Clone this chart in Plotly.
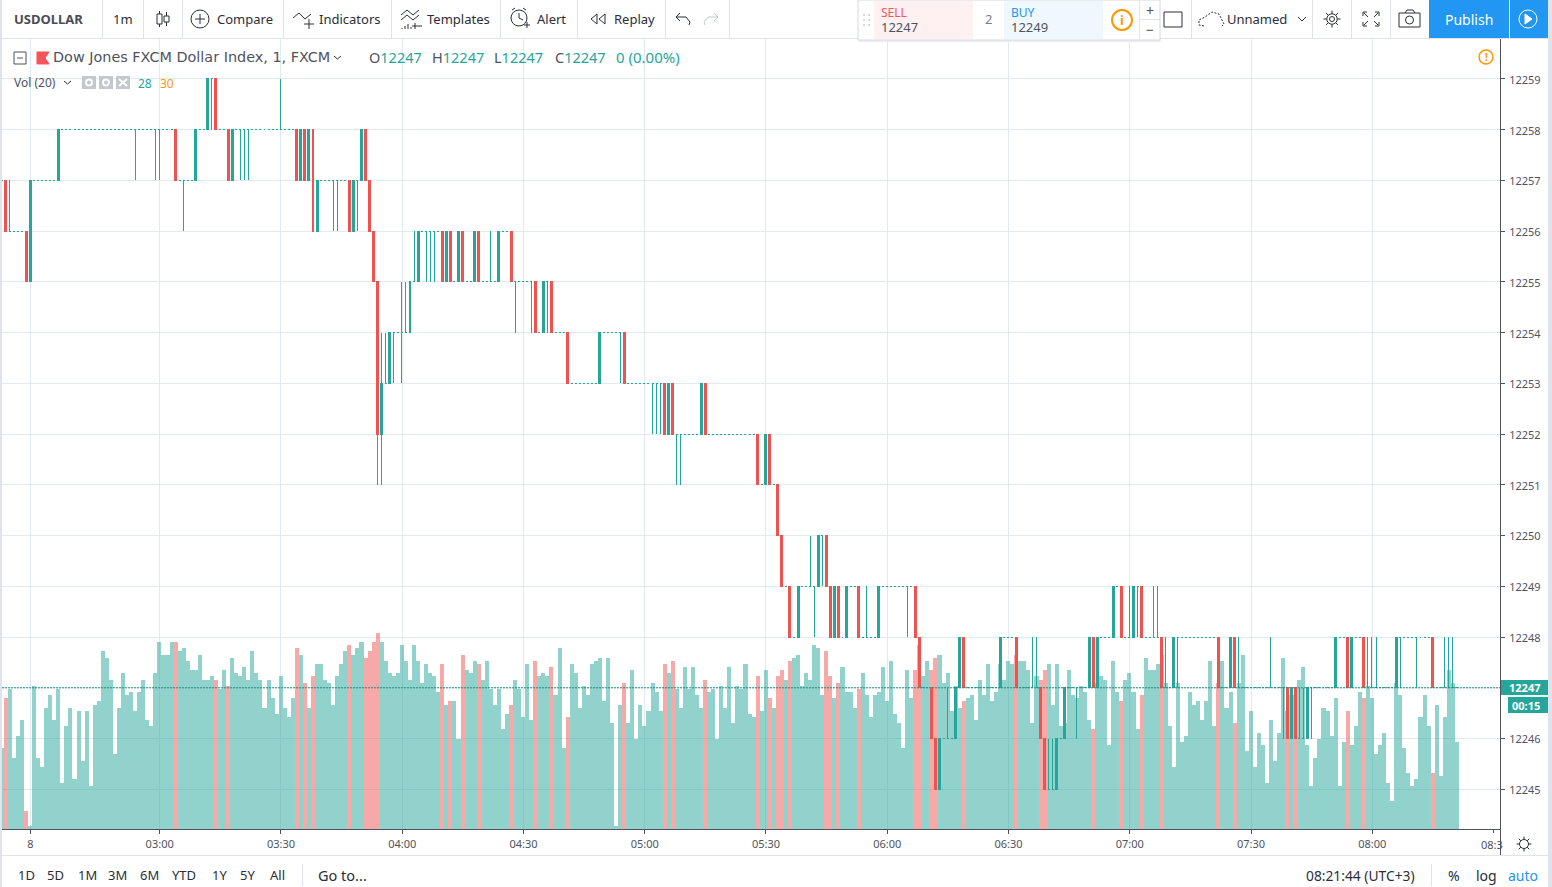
import plotly.graph_objects as go

# ---------- data ----------
time_tick_bars = [7, 39, 69, 99, 129, 159, 189, 219, 249, 279, 309, 339]
time_tick_labels = ["8", "03:00", "03:30", "04:00", "04:30", "05:00", "05:30", "06:00", "06:30", "07:00", "07:30", "08:00"]

first_open = 12257
closes = [
12257,12256,12256,12256,12256,12256,12255,12257,12257,12257,
12257,12257,12257,12257,12258,12258,12258,12258,12258,12258,
12258,12258,12258,12258,12258,12258,12258,12258,12258,12258,
12258,12258,12258,12258,12258,12258,12258,12258,12258,12258,
12258,12258,12258,12257,12257,12257,12257,12257,12258,12258,
12258,12259,12259,12258,12258,12258,12257,12258,12258,12258,
12258,12258,12258,12258,12258,12258,12258,12258,12258,12258,
12258,12258,12258,12257,12258,12257,12258,12256,12257,12257,
12257,12257,12257,12257,12257,12257,12256,12257,12257,12258,
12257,12256,12255,12252,12253,12253,12254,12254,12254,12254,
12254,12255,12255,12256,12256,12256,12256,12256,12256,12255,
12256,12255,12255,12256,12255,12255,12255,12256,12255,12255,
12255,12255,12255,12256,12256,12256,12255,12255,12255,12255,
12255,12255,12254,12254,12255,12255,12254,12254,12254,12254,
12253,12253,12253,12253,12253,12253,12253,12253,12254,12254,
12254,12254,12254,12254,12253,12253,12253,12253,12253,12253,
12253,12253,12253,12253,12252,12253,12252,12252,12252,12252,
12252,12252,12252,12253,12252,12252,12252,12252,12252,12252,
12252,12252,12252,12252,12252,12252,12252,12251,12251,12252,
12251,12251,12250,12249,12249,12248,12248,12249,12249,12249,
12249,12249,12250,12250,12249,12248,12249,12248,12248,12249,
12249,12249,12248,12248,12248,12248,12248,12249,12249,12249,
12249,12249,12249,12249,12249,12249,12248,12247,12247,12247,
12246,12245,12246,12246,12246,12246,12247,12248,12247,12247,
12247,12247,12247,12247,12247,12247,12247,12248,12248,12248,
12248,12247,12247,12247,12247,12247,12247,12246,12245,12245,
12245,12246,12246,12247,12247,12247,12247,12247,12247,12248,
12247,12248,12248,12248,12248,12249,12249,12248,12248,12248,
12249,12249,12248,12248,12248,12248,12248,12247,12247,12247,
12248,12248,12248,12248,12248,12248,12248,12248,12248,12248,
12248,12247,12247,12247,12248,12247,12247,12247,12247,12247,
12247,12247,12247,12247,12247,12247,12247,12247,12246,12247,
12246,12246,12246,12247,12247,12247,12247,12247,12247,12247,
12248,12248,12248,12247,12248,12248,12248,12247,12247,12247,
12247,12247,12247,12247,12247,12248,12248,12248,12248,12248,
12248,12248,12248,12248,12247,12247,12247,12247,12247,12247,
12247]

wick_high = {2:12257, 69:12259, 94:12254, 95:12254, 99:12255, 100:12255, 102:12256, 121:12256,
             200:12250, 214:12249, 234:12247, 255:12248, 256:12248, 259:12246, 260:12246, 279:12249,
             285:12249, 286:12249, 288:12248, 306:12248, 314:12248, 321:12247, 322:12247,
             338:12248, 339:12248, 340:12248, 357:12248, 358:12248, 359:12248}
wick_low = {33:12257, 38:12257, 39:12257, 45:12256, 52:12258, 59:12257, 60:12257, 61:12257,
            82:12256, 83:12256, 88:12256, 93:12251, 94:12251, 97:12253, 99:12253, 105:12255,
            106:12255, 107:12255, 127:12254, 131:12254, 135:12254, 153:12253, 161:12252,
            162:12252, 163:12252, 167:12251, 168:12251, 201:12248, 203:12249, 224:12248,
            266:12246, 281:12248, 291:12247, 317:12246, 324:12246, 346:12247, 350:12247}

volumes = [
26,42,45,23,30,35,6,1,46,23,20,39,43,35,45,15,33,39,16,38,
22,38,14,40,41,57,55,48,24,39,50,43,44,38,44,48,35,33,50,60,
56,56,60,60,57,58,54,51,51,56,48,48,49,48,45,51,46,55,50,49,
52,48,57,50,48,39,48,42,37,49,39,36,42,58,56,47,39,49,53,53,
48,47,40,49,53,57,59,56,58,60,55,57,60,63,60,54,50,49,50,59,
54,48,59,54,47,53,50,49,44,53,40,41,41,29,56,51,50,54,53,48,
54,45,40,45,32,37,40,48,45,36,53,35,54,49,50,49,52,43,58,26,
36,53,50,39,46,43,53,54,55,41,55,34,1,40,47,34,51,29,40,33,
38,47,44,38,53,50,54,45,39,52,45,52,43,39,48,44,45,29,46,39,
52,34,46,45,53,37,36,49,38,51,42,39,49,51,48,54,55,56,46,50,
48,59,58,43,57,49,42,47,52,44,44,39,45,50,43,36,43,44,52,41,
54,37,34,26,51,42,51,59,49,54,51,55,56,47,50,38,46,39,41,42,
43,35,48,43,53,41,44,53,48,54,53,56,54,54,51,34,49,48,51,53,
40,53,33,34,51,43,42,46,44,35,32,47,49,48,27,54,44,41,48,50,
44,32,43,55,51,51,53,56,47,33,20,47,28,30,44,40,41,35,41,54,
33,47,54,39,44,34,47,56,25,38,20,31,27,15,35,22,31,55,38,43,
43,48,52,27,14,23,29,39,38,30,42,14,28,38,27,33,44,42,46,42,
24,27,31,15,9,47,43,26,18,14,16,36,43,33,18,40,17,36,51,47,
28]

# ---------- derived from the lists above ----------
opens = [first_open] + closes[:-1]
highs = [max(o, c, wick_high.get(i, c)) for i, (o, c) in enumerate(zip(opens, closes))]
lows = [min(o, c, wick_low.get(i, c)) for i, (o, c) in enumerate(zip(opens, closes))]
bars = list(range(len(closes)))
falling = [c < o for o, c in zip(opens, closes)]

TEAL = "#26a69a"
RED = "#ef5350"
GRID = "#e0eaf0"
AXIS = "#50535e"
TEXT = "#50535e"
DARK = "#2a2e39"
LINE = "#e0e3eb"
FONT = "Noto Sans"
W, H = 1552, 887

fig = go.Figure()
fig.add_trace(go.Bar(
    x=bars, y=volumes, yaxis="y", xaxis="x", name="Vol",
    marker=dict(color=["rgba(239,83,80,0.5)" if f else "rgba(38,166,154,0.5)" for f in falling], line_width=0),
    hoverinfo="skip", showlegend=False))


def candle(keep, col, name):
    idx = [i for i in bars if keep(i)]
    side = dict(line=dict(color=col, width=1), fillcolor=col)
    fig.add_trace(go.Candlestick(
        x=idx, open=[opens[i] for i in idx], high=[highs[i] for i in idx],
        low=[lows[i] for i in idx], close=[closes[i] for i in idx],
        xaxis="x", yaxis="y2", name=name, increasing=side, decreasing=side,
        whiskerwidth=0, showlegend=False))


candle(lambda i: not falling[i], TEAL, "Up or flat")
candle(lambda i: falling[i], RED, "Down")

shapes, notes = [], []


def fx(x):
    return x / W


def fy(y):
    return 1 - y / H


def rect(x0, y0, x1, y1, fill="rgba(0,0,0,0)", line=None, lw=1):
    shapes.append(dict(type="rect", xref="paper", yref="paper", x0=fx(x0), x1=fx(x1), y0=fy(y0), y1=fy(y1),
                       fillcolor=fill, line=dict(color=line or "rgba(0,0,0,0)", width=lw if line else 0)))


def seg(x0, y0, x1, y1, col=LINE, lw=1):
    shapes.append(dict(type="line", xref="paper", yref="paper", x0=fx(x0), x1=fx(x1), y0=fy(y0), y1=fy(y1),
                       line=dict(color=col, width=lw)))


def ic(x0, y0, x1, y1):
    seg(x0, y0, x1, y1, DARK)


def circ(cx, cy, r, col=DARK, lw=1, fill="rgba(0,0,0,0)", dash="solid"):
    shapes.append(dict(type="circle", xref="paper", yref="paper", x0=fx(cx - r), x1=fx(cx + r), y0=fy(cy - r), y1=fy(cy + r),
                       fillcolor=fill, line=dict(color=col, width=lw, dash=dash)))


def poly(pts, col=DARK, lw=1, fill=None, close=False, dash="solid"):
    d = "M" + " L".join(f"{fx(x):.5f},{fy(y):.5f}" for x, y in pts) + (" Z" if close else "")
    shapes.append(dict(type="path", xref="paper", yref="paper", path=d,
                       fillcolor=fill or "rgba(0,0,0,0)", line=dict(color=col, width=lw, dash=dash)))


def gear(cx, cy, r):
    circ(cx, cy, r * 0.75)
    for dx, dy in [(0, 1), (1, 0), (0, -1), (-1, 0), (.7, .7), (-.7, .7), (.7, -.7), (-.7, -.7)]:
        ic(cx + dx * r * 0.75, cy + dy * r * 0.75, cx + dx * (r + 1.5), cy + dy * (r + 1.5))


def text(x, y, s, size=13, col=DARK, anchor="left", bold=False, family=FONT):
    notes.append(dict(xref="paper", yref="paper", x=fx(x), y=fy(y), text=f"<b>{s}</b>" if bold else s,
                      showarrow=False, xanchor=anchor, yanchor="middle", borderpad=0, borderwidth=0,
                      font=dict(size=size, color=col, family=family)))


# last price dotted line
shapes.append(dict(type="line", xref="paper", yref="y2", x0=fx(2), x1=fx(1500), y0=12247, y1=12247,
                   line=dict(color="#1f9186", width=1, dash="2px,1px")))

# page frame
rect(0, 0, 2, H, fill=LINE)
rect(1548, 0, W, H, fill=LINE)
seg(0, 38.5, W, 38.5)
seg(0, 855.5, W, 855.5)
seg(1500.5, 39, 1500.5, 855, AXIS)

# top toolbar
for sx in [102, 143, 182, 283, 391, 500, 577, 665, 729, 1191, 1312, 1351, 1390, 1429]:
    seg(sx + .5, 0, sx + .5, 38)
text(14, 19, "USDOLLAR", 13, "#4a4d57", bold=True)
text(113, 19, "1m", 13)
# candle icon
ic(159.5, 11, 159.5, 27); rect(157, 14, 162, 24, fill="white", line=DARK)
ic(166.5, 12, 166.5, 26); rect(164, 16, 169, 22, fill="white", line=DARK)
circ(200, 19, 9); ic(200, 14, 200, 24); ic(195, 19, 205, 19)
text(217, 19, "Compare", 13)
poly([(293, 18), (299, 13), (305, 19), (311, 14)]); ic(309, 19, 309, 29); ic(304, 24, 314, 24)
text(319, 19, "Indicators", 13)
poly([(401, 15), (407, 10), (413, 15), (419, 10)]); poly([(401, 20), (407, 15), (413, 20), (419, 15)])
ic(415, 23, 415, 29); ic(412, 26, 422, 26)
for bx, by in [(402, 28), (405, 26), (408, 24), (411, 27)]:
    ic(bx, by, bx, 29)
text(427, 19, "Templates", 13)
circ(519, 18, 8); ic(519, 13, 519, 18); ic(519, 18, 523, 20); ic(512, 10, 515, 8); ic(526, 10, 523, 8); ic(524, 25, 530, 25); ic(527, 22, 527, 28)
text(537, 19, "Alert", 13)
poly([(597, 14), (591, 19), (597, 24)], close=True); poly([(605, 14), (599, 19), (605, 24)], close=True)
text(614, 19, "Replay", 13)
poly([(680, 13), (676, 17), (680, 21)]); poly([(676, 17), (686, 17), (690, 22), (689, 25)])
poly([(714, 13), (718, 17), (714, 21)], col="#c5c7ce"); poly([(718, 17), (708, 17), (704, 22), (705, 25)], col="#c5c7ce")

# sell / buy panel
rect(859, 40, 1161, 42, fill="#eceef2")
rect(858, 0, 1160, 40, fill="white", line="#d5d8e0")
rect(874, 1, 973, 39, fill="#fff0f1")
rect(1004, 1, 1103, 39, fill="#eff8fe")
seg(1139.5, 0, 1139.5, 39); seg(1140, 19.5, 1160, 19.5)
for dy in [14, 19, 24]:
    for dx in [863, 868]:
        rect(dx, dy, dx + 2, dy + 2, fill="#d5d8e0")
text(881, 12, "SELL", 12, "#f9545b")
text(881, 27, "12247", 13, TEXT)
text(989, 19, "2", 13, "#7a7d87", anchor="center")
text(1011, 12, "BUY", 12, "#2196f3")
text(1011, 27, "12249", 13, TEXT)
circ(1122, 20, 10, col="#ff9800", lw=2)
text(1122, 20, "i", 13, "#ff9800", anchor="center", bold=True)
text(1150, 10, "+", 14, TEXT, anchor="center")
text(1150, 29, "−", 14, TEXT, anchor="center")
rect(1164, 12, 1182, 27, line=DARK)
poly([(1204, 26), (1199, 25), (1199, 20), (1205, 17), (1212, 12), (1219, 14), (1222, 20), (1224, 24), (1222, 26)], dash="2px,1.5px")
text(1227, 19, "Unnamed", 13)
poly([(1298, 17), (1302, 21), (1306, 17)])
gear(1332, 19, 7); circ(1332, 19, 2.5)
for x0, y0, x1, y1 in [(1363, 16, 1363, 12), (1363, 12, 1367, 12), (1379, 16, 1379, 12), (1379, 12, 1375, 12),
                       (1363, 22, 1363, 26), (1363, 26, 1367, 26), (1379, 22, 1379, 26), (1379, 26, 1375, 26),
                       (1364, 13, 1368, 17), (1378, 13, 1374, 17), (1364, 25, 1368, 21), (1378, 25, 1374, 21)]:
    ic(x0, y0, x1, y1)
rect(1399, 13, 1420, 27, line=DARK, lw=1); circ(1409.5, 20, 4); ic(1405, 13, 1407, 10); ic(1407, 10, 1413, 10); ic(1413, 10, 1415, 13)
rect(1429, 0, 1509, 38, fill="#2196f3")
rect(1510, 0, 1548, 38, fill="#2196f3")
text(1469, 19, "Publish", 14, "white", anchor="center")
circ(1528, 19, 9, col="white")
poly([(1525, 14), (1532, 19), (1525, 24)], col="white", fill="white", close=True)

# chart legend
rect(14, 52, 26, 64, fill="white", line=TEXT)
seg(17, 58, 23, 58, TEXT)
poly([(37, 52), (49, 52), (45, 58), (49, 64), (37, 64)], col="#f9545b", fill="#f9545b", close=True)
text(53, 57, "Dow Jones FXCM Dollar Index, 1, FXCM", 14.4, TEXT, family="DejaVu Sans")
poly([(334, 56), (337.5, 59), (341, 56)], col=DARK)
num = lambda s: f'<span style="color:{TEAL}">{s}</span>'
text(369, 57, f"O{num('12247')}", 14.5, TEXT)
text(432, 57, f"H{num('12247')}", 14.5, TEXT)
text(494, 57, f"L{num('12247')}", 14.5, TEXT)
text(555, 57, f"C{num('12247')}", 14.5, TEXT)
text(616, 57, "0 (0.00%)", 15, TEAL)
circ(1486, 57, 7, col="#ff9800", lw=1.5)
text(1486, 57, "!", 10, "#ff9800", anchor="center", bold=True)
text(14, 82, "Vol (20)", 12, TEXT)
poly([(64, 81), (67.5, 84), (71, 81)], col=DARK)
for bx in [82, 99, 116]:
    rect(bx, 76, bx + 14, 89, fill="#c5c7ce")
circ(89, 82.5, 3, col="white", lw=2); circ(106, 82.5, 3, col="white", lw=2)
seg(119, 79, 127, 86, "white", 2); seg(127, 79, 119, 86, "white", 2)
text(138, 83, "28", 12, TEAL)
text(160, 83, "30", 12, "#ff9800")

# price badges
rect(1501, 680, 1548, 695, fill=TEAL)
rect(1508, 697, 1548, 713, fill=TEAL)
text(1524, 687.5, "12247", 11, "white", anchor="center", bold=True)
text(1526, 705, "00:15", 11, "white", anchor="center", bold=True)

# clipped last time label and time axis corner
shapes.append(dict(type="line", xref="x", yref="paper", x0=369.07, x1=369.07, y0=fy(829), y1=fy(833),
                   line=dict(color=AXIS, width=1)))
text(1481, 844, "08:3", 11, TEXT)
gear(1524, 844, 6)

# bottom toolbar
for lab, lx in zip(["1D", "5D", "1M", "3M", "6M", "YTD", "1Y", "5Y", "All"], [26, 56, 87, 118, 149, 184, 219, 248, 277]):
    text(lx, 875, lab, 13, DARK, anchor="center")
seg(302.5, 864, 302.5, 886)
text(318, 875, "Go to...", 14.5)
text(1306, 875, "08:21:44 (UTC+3)", 13.8)
seg(1431.5, 864, 1431.5, 886)
text(1454, 875, "%", 14, anchor="center")
text(1486, 875, "log", 14, anchor="center")
text(1523, 875, "auto", 14, "#2196f3", anchor="center")

fig.update_layout(
    width=W, height=H, margin=dict(l=0, r=0, t=0, b=0, pad=0, autoexpand=False),
    paper_bgcolor="white", plot_bgcolor="white", showlegend=False,
    font=dict(family=FONT, size=11, color=TEXT),
    bargap=0, boxmode="overlay", boxgap=0.3,
    shapes=shapes, annotations=notes,
    xaxis=dict(domain=[fx(2), fx(1500)], anchor="y", range=[0.06, 370.67], rangeslider=dict(visible=False),
               tickmode="array", tickvals=[b + 0.07 for b in time_tick_bars], ticktext=time_tick_labels,
               showgrid=True, gridcolor=GRID, gridwidth=1, zeroline=False,
               showline=True, linecolor=AXIS, linewidth=1, ticks="outside", ticklen=4, tickcolor=AXIS,
               tickfont=dict(size=11, color=TEXT, family=FONT)),
    yaxis=dict(domain=[fy(829.3), fy(39)], range=[0, 253.3], visible=False, fixedrange=True),
    yaxis2=dict(overlaying="y", side="right", anchor="x", range=[12244.211, 12259.788],
                tickmode="linear", tick0=12245, dtick=1, tickformat="d",
                showgrid=True, gridcolor=GRID, gridwidth=1, zeroline=False,
                showline=False, ticks="outside", ticklen=4, tickcolor=AXIS,
                ticklabelstandoff=2, ticklabelshift=1,
                tickfont=dict(size=11, color=TEXT, family=FONT)),
)

fig.write_html("out.html", config=dict(displayModeBar=False),
               post_script="document.body.style.margin='0';document.body.style.overflow='hidden';"
                           "var s=document.createElement('style');"
                           "s.textContent='.boxlayer path{shape-rendering:crispEdges}';"
                           "document.head.appendChild(s);")
